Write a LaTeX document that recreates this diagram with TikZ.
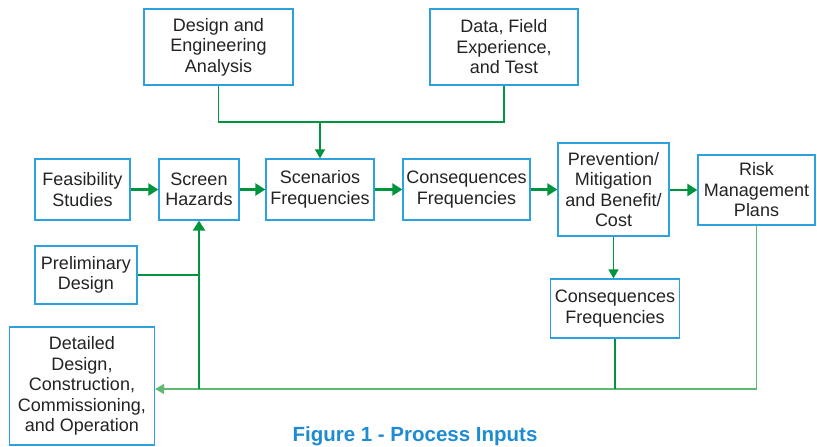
\documentclass[tikz,border=0pt]{standalone}
\usepackage{fontspec}
\setmainfont{Liberation Sans}
\usetikzlibrary{arrows.meta,positioning}

\definecolor{boxblue}{RGB}{45,160,222}
\definecolor{flowgreen}{RGB}{0,148,62}
\definecolor{feedgreen}{RGB}{95,185,115}
\definecolor{capblue}{RGB}{30,140,210}
\definecolor{txtgray}{RGB}{35,35,35}

\begin{document}
\begin{tikzpicture}[
        x=1pt,y=-1pt,
        box/.style={
          draw=boxblue,
          line width=1.3pt,
          fill=white,
          align=center,
          inner sep=0pt,
          text=txtgray,
          font=\fontsize{18}{20.5}\selectfont
          },
        flow/.style={
          draw=flowgreen,
          line width=2.8pt,
          -{Triangle[length=10pt,width=12pt]}
          },
        link/.style={
          draw=flowgreen,
          line width=1.3pt
          },
        feed/.style={
          draw=feedgreen,
          line width=1.3pt
          },
        >={Triangle[length=9pt,width=10pt]}
        ]
        \clip (0,0) rectangle (817,447);
        \fill[white] (0,0) rectangle (817,447);
        % boxes
        \node[box,minimum width=149pt,minimum height=76pt] (design) at (218.5,47) {Design and\\Engineering\\Analysis};
        \node[box,minimum width=148pt,minimum height=76pt] (data) at (504,47) {Data, Field\\Experience,\\and Test};
        \node[box,minimum width=95pt,minimum height=61pt] (feas) at (82.5,189.5) {Feasibility\\Studies};
        \node[box,minimum width=80pt,minimum height=61pt] (screen) at (199,189.5) {Screen\\Hazards};
        \node[box,minimum width=108pt,minimum height=61pt] (scen) at (320,189.5) {Scenarios\\Frequencies};
        \node[box,minimum width=127pt,minimum height=61pt] (cons) at (466.5,189.5) {Consequences\\Frequencies};
        \node[box,minimum width=111pt,minimum height=93pt] (prev) at (613.5,189.5) {Prevention/\\Mitigation\\and Benefit/\\Cost};
        \node[box,minimum width=117pt,minimum height=70pt] (risk) at (756.5,190) {Risk\\Management\\Plans};
        \node[box,minimum width=129pt,minimum height=59pt] (conslow) at (615,308.5) {Consequences\\Frequencies};
        \node[box,minimum width=102pt,minimum height=58pt] (prelim) at (86,275) {Preliminary\\Design};
        \node[box,minimum width=145pt,minimum height=118pt] (detail) at (82,386) {Detailed\\Design,\\Construction,\\Commissioning,\\and Operation};
        % caption
        \node[anchor=north,inner sep=0pt,text=capblue,font=\fontsize{20.5}{24}\bfseries\selectfont] (cap) at (415,426) {Figure 1 - Process Inputs};
        % connectors
        \coordinate (join) at (320,122);
        \coordinate (base) at (0,389);
        \draw[link] (design.south) |- (join) -| (data.south);
        \draw[link,->] (join) -- (scen.north);
        \draw[flow] (feas) -- (screen);
        \draw[flow] (screen) -- (scen);
        \draw[flow] (scen) -- (cons);
        \draw[flow] (cons) -- (cons.east -| prev.west);
        \draw[flow] (prev.east |- risk) -- (risk.west);
        \draw[link,->] (prev.south) -- (prev.south |- conslow.north);
        \draw[feed,->] (risk.south) -- (risk.south |- base) -- (detail.east |- base);
        \draw[link] (conslow.south) -- (conslow.south |- base);
        \draw[link] (prelim.east) -- (prelim.east -| screen.south);
        \draw[flow] (screen.south |- base) -- (screen.south);
\end{tikzpicture}
\end{document}
